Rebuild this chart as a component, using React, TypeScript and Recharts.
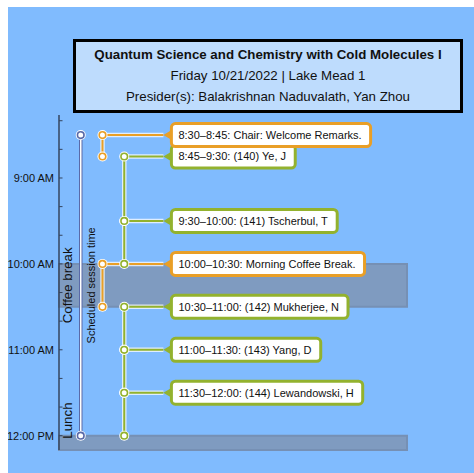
import React from 'react';
import { ComposedChart, XAxis, YAxis, Line, Scatter, ReferenceArea, ReferenceDot } from 'recharts';

const titleLines = [
  'Quantum Science and Chemistry with Cold Molecules I',
  'Friday 10/21/2022 | Lake Mead 1',
  'Presider(s): Balakrishnan Naduvalath, Yan Zhou',
];

// times are minutes since midnight
const talkStarts = [510, 525, 570, 600, 630, 660, 690];
const talkEnds = [525, 570, 600, 630, 660, 690, 720];
const talkTitles = [
  'Chair: Welcome Remarks.',
  '(140) Ye, J',
  '(141) Tscherbul, T',
  'Morning Coffee Break.',
  '(142) Mukherjee, N',
  '(143) Yang, D',
  '(144) Lewandowski, H',
];
const talkTracks = ['chair', 'talk', 'talk', 'chair', 'talk', 'talk', 'talk'];

const breakStarts = [600, 720];
const breakEnds = [630, 730];
const breakNames = ['Coffee break', 'Lunch'];

const scheduleStart = 510;
const scheduleEnd = 720;
const scheduleName = 'Scheduled session time';

const yTicks = [500, 520, 540, 560, 580, 600, 620, 640, 660, 680, 700, 720];
const yDomain = [496, 730];

// layout
const FONT = '"Liberation Sans", Arial, sans-serif';
const lanes: Record<string, number> = { schedule: 1, chair: 2, talk: 3 };
const labelLane = 4.8;
const trackColors: Record<string, string> = { chair: '#e99f27', talk: '#93b22e' };
const scheduleColor = '#5a6aa8';
const axisColor = '#34445e';

const fmt = (m: number) => `${Math.floor(m / 60) > 12 ? Math.floor(m / 60) - 12 : Math.floor(m / 60)}:${String(m % 60).padStart(2, '0')}`;
const fmtTick = (m: number) => `${fmt(m)} ${m >= 720 ? 'PM' : 'AM'}`;

const talks = talkStarts.map((s, i) => ({
  x: labelLane,
  y: s,
  end: talkEnds[i],
  track: talkTracks[i],
  text: `${fmt(s)}–${fmt(talkEnds[i])}: ${talkTitles[i]}`,
}));

let ctx: CanvasRenderingContext2D | null = null;
const measure = (s: string) => {
  if (!ctx) ctx = document.createElement('canvas').getContext('2d');
  if (!ctx) return s.length * 6;
  ctx.font = `11px ${FONT}`;
  return ctx.measureText(s).width;
};

const Node = ({ cx, cy, color }: any) => (
  <g>
    <circle cx={cx} cy={cy} r={5} fill="#fff" />
    <circle cx={cx} cy={cy} r={3.3} fill="#fff" stroke={color} strokeWidth={1.6} />
  </g>
);

const nodeDot = (color: string) => (p: any) =>
  p.index === 0 && p.payload.x === labelLane ? (
    <g key={`n${p.index}`} />
  ) : (
    <Node key={`n${p.index}`} cx={p.cx} cy={p.cy} color={color} />
  );

const TalkBox = (props: any) => {
  const { cx, cy, payload } = props;
  const color = trackColors[payload.track];
  const w = measure(payload.text) + 16;
  const left = cx + 8;
  return (
    <g>
      <path d={`M${cx},${cy} L${left + 2},${cy - 6} L${left + 2},${cy + 6} Z`} fill={color} />
      <rect x={left} y={cy - 11.5} width={w} height={23} rx={4} fill="#fff" stroke={color} strokeWidth={3} />
      <text x={left + 7} y={cy} dy="0.35em" fontSize={11} fontFamily={FONT} fill="#111">
        {payload.text}
      </text>
    </g>
  );
};

const TimeTick = ({ x, y, payload }: any) => (
  <g>
    <line x1={x + 5} x2={x + 8.5} y1={y} y2={y} stroke={axisColor} strokeWidth={1} />
    {payload.value % 60 === 0 && (
      <text x={x} y={y} dy="0.35em" textAnchor="end" fontSize={11} fontFamily={FONT} fill="#111">
        {fmtTick(payload.value)}
      </text>
    )}
  </g>
);

const bandLabel = (name: string, i: number) => (p: any) => {
  const vb = p.viewBox;
  const bx = vb.x + 13;
  const by = i === 0 ? vb.y + vb.height / 2 : vb.y + 3;
  return (
    <text
      x={bx}
      y={by}
      textAnchor={i === 0 ? 'middle' : 'start'}
      transform={`rotate(-90, ${bx}, ${by})`}
      fontSize={13.3}
      fontFamily={FONT}
      fill="#111"
    >
      {name}
    </text>
  );
};

const ScheduleLabel = ({ cx, cy }: any) => (
  <text
    x={cx + 14.5}
    y={cy}
    textAnchor="middle"
    transform={`rotate(-90, ${cx + 14.5}, ${cy})`}
    fontSize={11}
    fontFamily={FONT}
    fill="#111"
  >
    {scheduleName}
  </text>
);

const trackPath = (t: any) => [
  { x: labelLane, y: t.y },
  { x: lanes[t.track], y: t.y },
  { x: lanes[t.track], y: t.end },
];

export default function App() {
  const ordered = [...talks.filter((t) => t.track === 'talk'), ...talks.filter((t) => t.track === 'chair')];
  const scheduleData = [
    { x: lanes.schedule, y: scheduleStart },
    { x: lanes.schedule, y: scheduleEnd },
  ];
  return (
    <div
      style={{
        position: 'absolute',
        left: 8,
        top: 7,
        width: 466,
        height: 466,
        background: '#80bbfe',
        overflow: 'hidden',
        fontFamily: FONT,
      }}
    >
      <div
        style={{
          position: 'absolute',
          left: 65,
          top: 32,
          width: 390,
          height: 74,
          boxSizing: 'border-box',
          border: '3px solid #000',
          background: '#bedcfd',
          textAlign: 'center',
          paddingTop: 2,
          color: '#111',
          fontSize: 13.3,
          lineHeight: '21px',
        }}
      >
        {titleLines.map((l, i) => (
          <div key={i} style={{ fontWeight: i === 0 ? 700 : 400 }}>
            {l}
          </div>
        ))}
      </div>
      <ComposedChart width={466} height={466} margin={{ top: 108, right: 67, bottom: 23, left: 0 }}>
        <XAxis type="number" dataKey="x" domain={[0, 16]} hide allowDataOverflow />
        <YAxis
          type="number"
          dataKey="y"
          domain={yDomain}
          reversed
          ticks={yTicks}
          interval={0}
          width={51}
          tickSize={0}
          tickMargin={5}
          tick={<TimeTick />}
          axisLine={{ stroke: axisColor, strokeWidth: 1.5 }}
          allowDataOverflow
        />
        {breakStarts.map((s, i) => (
          <ReferenceArea
            key={`b${i}`}
            y1={s}
            y2={breakEnds[i]}
            fill="#7f9bc0"
            fillOpacity={1}
            stroke="#7690b4"
            strokeWidth={2}
            ifOverflow="visible"
            label={bandLabel(breakNames[i], i)}
          />
        ))}
        <Line
          data={scheduleData}
          dataKey="y"
          stroke={scheduleColor}
          strokeWidth={3.5}
          dot={false}
          activeDot={false}
          isAnimationActive={false}
        />
        <Line
          data={scheduleData}
          dataKey="y"
          stroke="#fff"
          strokeWidth={1.5}
          dot={nodeDot(scheduleColor)}
          activeDot={false}
          isAnimationActive={false}
        />
        {ordered.map((t, i) => [
          <Line
            key={`h${i}`}
            data={trackPath(t)}
            dataKey="y"
            stroke="#fff"
            strokeOpacity={0.75}
            strokeWidth={4.5}
            dot={false}
            activeDot={false}
            isAnimationActive={false}
          />,
          <Line
            key={`l${i}`}
            data={trackPath(t)}
            dataKey="y"
            stroke={trackColors[t.track]}
            strokeWidth={2}
            dot={nodeDot(trackColors[t.track])}
            activeDot={false}
            isAnimationActive={false}
          />,
        ])}
        <ReferenceDot
          x={lanes.schedule}
          y={(scheduleStart + scheduleEnd) / 2}
          shape={<ScheduleLabel />}
          ifOverflow="visible"
        />
        <Scatter data={talks.filter((t) => t.track === 'talk')} shape={<TalkBox />} isAnimationActive={false} />
        <Scatter data={talks.filter((t) => t.track === 'chair')} shape={<TalkBox />} isAnimationActive={false} />
      </ComposedChart>
    </div>
  );
}
